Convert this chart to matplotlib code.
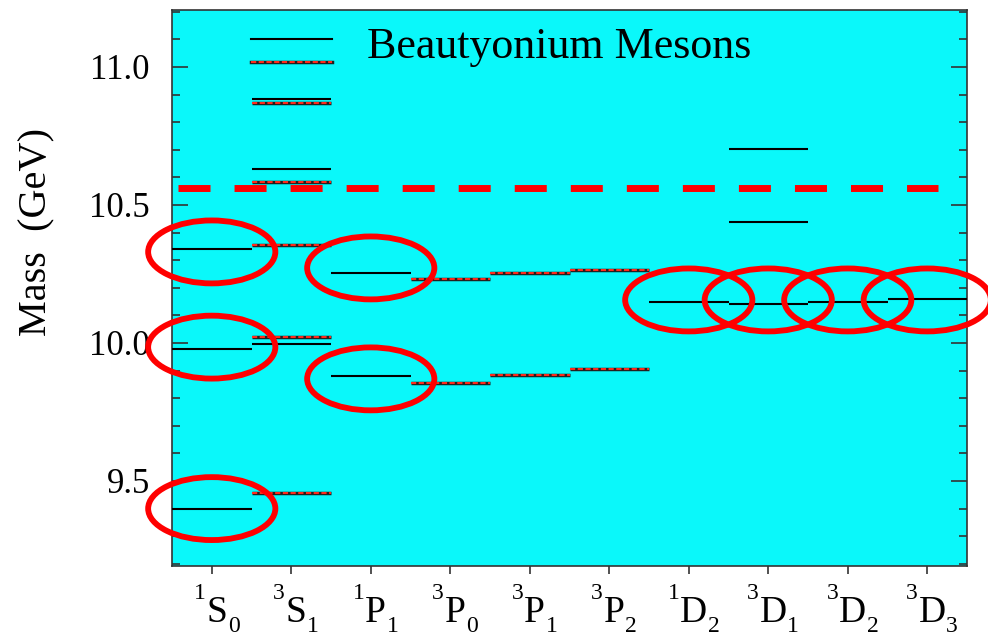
import matplotlib
matplotlib.use("Agg")
import matplotlib.pyplot as plt
from matplotlib.patches import Ellipse
from matplotlib.lines import Line2D
from matplotlib.legend_handler import HandlerBase
from matplotlib.ticker import MultipleLocator

plt.rcParams["font.family"] = ["Liberation Serif", "DejaVu Serif"]

# ---- spectroscopic states (2S+1)L_J ----
multiplicity = [1, 3, 1, 3, 3, 3, 1, 3, 3, 3]
orbital = ["S", "S", "P", "P", "P", "P", "D", "D", "D", "D"]
total_j = [0, 1, 1, 0, 1, 2, 2, 1, 2, 3]

# ---- masses (GeV): model A (solid black) ----
model_a = [
    [9.397, 9.978, 10.341],
    [9.996, 10.632, 10.883],
    [9.880, 10.252],
    [],
    [],
    [],
    [10.150],
    [10.141, 10.440, 10.703],
    [10.150],
    [10.158],
]

# ---- masses (GeV): model B (red dotted) ----
model_b = [
    [],
    [9.455, 10.021, 10.355, 10.582, 10.868],
    [],
    [9.854, 10.232],
    [9.885, 10.254],
    [9.907, 10.264],
    [],
    [],
    [],
    [],
]

# open-flavour threshold (GeV) and the span of its dashed marker
threshold = 10.560
threshold_span = (0.572, 10.13)

# highlighted levels: ellipse centres (state index, mass)
ring_x = [1.0, 1.0, 1.0, 3.0, 3.0, 7.0, 8.0, 9.0, 10.0]
ring_y = [10.330, 9.985, 9.400, 10.272, 9.870, 10.156, 10.156, 10.156, 10.156]
ring_w = 1.60
ring_h = 0.228

legend_label = "Beautyonium Mesons"

xpos = list(range(1, len(orbital) + 1))

fig = plt.figure(figsize=(9.88, 6.37), dpi=100)
ax = fig.add_axes([172 / 988, 71 / 637, 795 / 988, 556 / 637])
ax.set_facecolor("#0af8fa")

half = 0.5
black_kw = dict(color="black", linewidth=1.5)
b_under_kw = dict(color="#202020", linewidth=2.5)
b_over_kw = dict(color="#ff2a1a", linewidth=1.5, linestyle=(0, (2.5, 1.2)))

for x, levels in zip(xpos, model_a):
    if levels:
        ax.hlines(levels, x - half, x + half, **black_kw, capstyle="butt",
                  zorder=3)

for x, levels in zip(xpos, model_b):
    if levels:
        ax.hlines(levels, x - half, x + half, **b_under_kw, capstyle="butt",
                  zorder=3)
        ax.hlines(levels, x - half, x + half, **b_over_kw, capstyle="butt",
                  zorder=4)

# threshold line
ax.hlines(threshold, *threshold_span, color="#ff0000", linewidth=5,
          linestyles=[(0, (4.61, 3.46))], capstyle="butt", zorder=5)

# rings around highlighted levels
for cx, cy in zip(ring_x, ring_y):
    ax.add_patch(Ellipse((cx, cy), ring_w, ring_h, fill=False,
                         edgecolor="#ff0000", linewidth=4.2,
                         zorder=6, clip_on=False))


class LevelKey:
    def __init__(self, groups):
        self.groups = groups


class StackedLevels(HandlerBase):
    def __init__(self, gap, shift):
        super().__init__()
        self.gap = gap
        self.shift = shift

    def create_artists(self, legend, orig_handle, xdescent, ydescent,
                       width, height, fontsize, trans):
        artists = []
        ycen = height / 2 - ydescent + self.shift
        offsets = [self.gap, -self.gap]
        for group, dy in zip(orig_handle.groups, offsets):
            for proto in group:
                ln = Line2D([-xdescent, -xdescent + width], [ycen + dy] * 2)
                ln.update_from(proto)
                ln.set_transform(trans)
                artists.append(ln)
        return artists


key = LevelKey([
    [Line2D([], [], **black_kw)],
    [Line2D([], [], **b_under_kw), Line2D([], [], **b_over_kw)],
])
ax.legend([key], [legend_label],
          handler_map={LevelKey: StackedLevels(gap=8.3, shift=-5.4)},
          loc="center left", bbox_to_anchor=(0.0994, 0.933),
          frameon=False, borderpad=0, borderaxespad=0,
          handlelength=1.83, handletextpad=0.80, fontsize=31.7)

ax.set_xlim(0.5, 10.5)
ax.set_ylim(9.192, 11.2065)
ax.set_xticks(xpos)
ax.set_xticklabels([""] * len(xpos))
ax.yaxis.set_major_locator(MultipleLocator(0.5))
ax.yaxis.set_minor_locator(MultipleLocator(0.1))
ax.xaxis.set_minor_locator(plt.NullLocator())
ax.yaxis.set_major_formatter(plt.FormatStrFormatter("%.1f"))

# state labels: term letter with multiplicity (upper left) and J (lower right)
for x, m, l, j in zip(xpos, multiplicity, orbital, total_j):
    letter = ax.annotate(l, xy=(x, 0), xycoords=("data", "axes fraction"),
                         xytext=(3.5, -40.3), textcoords="offset points",
                         ha="center", va="baseline", fontsize=27,
                         annotation_clip=False)
    ax.annotate(str(m), xy=(0, 0), xycoords=letter,
                xytext=(-0.5, 22.5), textcoords="offset points",
                ha="right", va="baseline", fontsize=17)
    ax.annotate(str(j), xy=(1, 0), xycoords=letter,
                xytext=(0.5, -1.5), textcoords="offset points",
                ha="left", va="baseline", fontsize=17)

ax.tick_params(axis="y", which="both", direction="in", left=True, right=True,
               labelsize=25, pad=16, width=1.2, color="#333333")
ax.tick_params(axis="y", which="major", length=11.5)
ax.tick_params(axis="y", which="minor", length=5.5)
ax.tick_params(axis="x", which="major", direction="out", length=5.5,
               width=1.2, pad=6, top=False, color="#333333")

for sp in ax.spines.values():
    sp.set_color("#333333")
    sp.set_linewidth(1.2)

fig.text(37 / 988, 1 - 232 / 637, "Mass  (GeV)", rotation=90,
         ha="center", va="center", fontsize=29)

fig.savefig("out.png", dpi=100)
